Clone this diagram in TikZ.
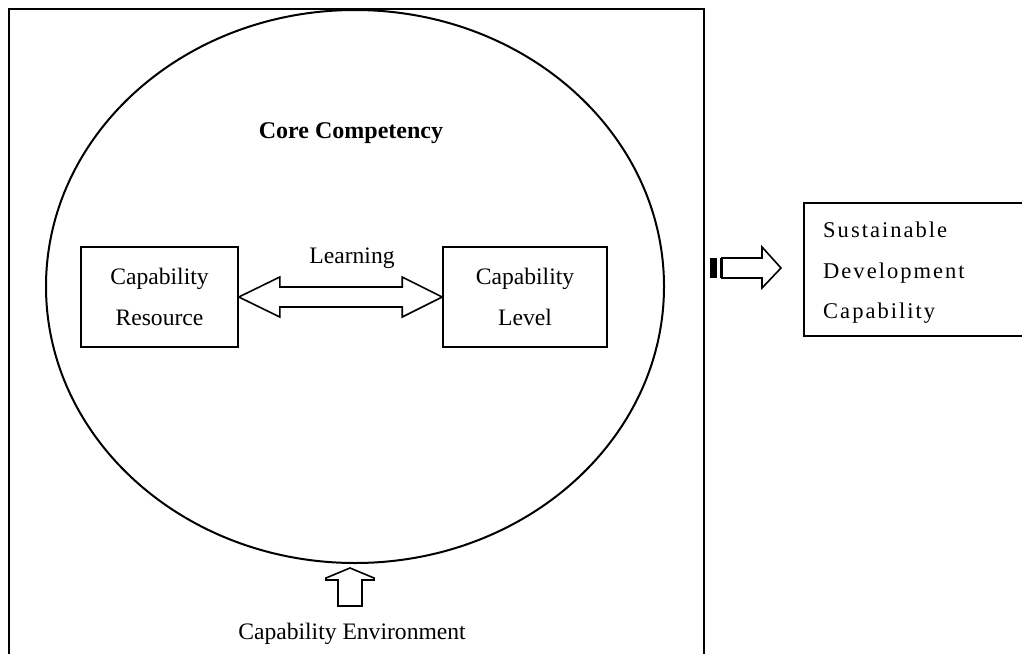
\documentclass[tikz,border=0pt]{standalone}
\usepackage{fontspec}
\setmainfont{Liberation Serif}
\usetikzlibrary{shapes.geometric,calc}
\begin{document}
\begin{tikzpicture}[x=1pt,y=-1pt,
  box/.style={draw,line width=1.6pt,inner sep=0pt,align=center,font=\fontsize{23.6}{41}\selectfont},
  lbl/.style={inner sep=0pt,font=\fontsize{23.6}{41}\selectfont},
  blockarrow/.style={draw,line width=1.6pt,line join=miter,fill=white}]
\useasboundingbox (0,0) rectangle (1022,653);
% outer frame (bottom cut by page edge)
\draw[line width=2.6pt] (9,660) -- (9,9) -- (704,9) -- (704,660);
% ellipse
\node[draw,line width=2pt,ellipse,minimum width=618pt,minimum height=553pt,inner sep=0pt] (core) at (355,286.5) {};
\node[lbl,font=\fontsize{24}{28}\selectfont\bfseries] (title) at (351,133) {Core Competency};
% boxes
\node[box,minimum width=157pt,minimum height=100pt] (res) at (159.5,297) {Capability\\Resource};
\node[box,minimum width=164pt,minimum height=100pt] (lev) at (525,297) {Capability\\Level};
% double arrow
\draw[blockarrow] (res.east) -- ++(41,-20) -- ++(0,10) -- ($(lev.west)+(-40,-10)$) -- ++(0,-10) -- (lev.west)
  -- ++(-40,20) -- ++(0,-10) -- ($(res.east)+(41,10)$) -- ++(0,10) -- cycle;
\node[lbl] (learn) at (352,258) {Learning};
% bottom arrow
\coordinate (tipb) at (350,568);
\draw[blockarrow] (tipb) -- ++(24,10) -- ++(0,2) -- ++(-12,0) -- ++(0,26) -- ++(-24,0) -- ++(0,-26) -- ++(-12,0) -- ++(0,-2) -- cycle;
\node[lbl] (env) at (352,634) {Capability Environment};
% right box
\node[draw,line width=1.6pt,inner sep=0pt,minimum width=230pt,minimum height=133pt,anchor=west] (sdc) at (803,269.5) {};
\node[lbl,anchor=west,align=left,font=\fontsize{22.5}{40.5}\selectfont\addfontfeatures{LetterSpace=9}] (sdct) at (823,273) {Sustainable\\Development\\Capability};
% striped block arrow
\fill (710,258) rectangle (717,278);
\fill (720,258) rectangle (722.5,278);
\coordinate (tipr) at (781,268);
\draw[blockarrow] (722,258) -- (762,258) -- (762,247) -- (tipr) -- (762,288) -- (762,278) -- (722,278) -- cycle;
\end{tikzpicture}
\end{document}
